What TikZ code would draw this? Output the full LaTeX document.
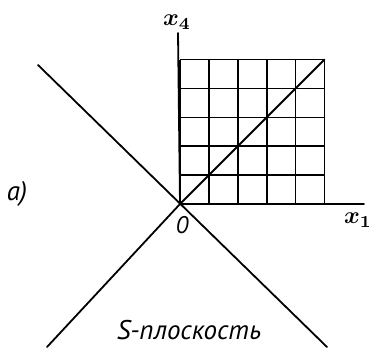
\documentclass[tikz,border=0pt]{standalone}
\usepackage{graphicx}
\usepackage{fontspec}
\newfontfamily\ptsans{PT Sans}
\newcommand{\biglbl}[1]{\scalebox{2.4}{\boldmath$#1$}}
\begin{document}
\begin{tikzpicture}[x=1pt,y=-1pt,
  ln/.style={line width=1.8pt, line cap=round},
  gridln/.style={line width=1.6pt},
  lbl/.style={inner sep=0pt, font=\ptsans\itshape\fontsize{27}{30}\selectfont},
  axlbl/.style={inner sep=0pt}]
\useasboundingbox (0,0) rectangle (371,348);
\coordinate (O) at (180,204);
\coordinate (TR) at (324.5,59.5);
\coordinate (x4end) at (178,33);
\coordinate (x1end) at (364,204);
\coordinate (UL) at (38,65);
\coordinate (LR) at (327,347);
\coordinate (LL) at (47,347);
% grid
\foreach \i in {0,...,5} {
  \draw[gridln] (180+28.9*\i,204) -- (180+28.9*\i,59.5);
  \draw[gridln] (180,204-28.9*\i) -- (324.5,204-28.9*\i);
}
% axes
\draw[ln] (O) -- (x4end);
\draw[ln] (O) -- (x1end);
\draw[ln] (O) -- (TR);
% light-cone lines
\draw[ln] (UL) -- (LR);
\draw[ln] (O) -- (LL);
% labels
\node[axlbl] (lx4) at (177,22) {\biglbl{x_4}};
\node[axlbl] (lx1) at (358,220) {\biglbl{x_1}};
\node[lbl, font=\ptsans\itshape\fontsize{24}{28}\selectfont] (l0) at (182,225) {0};
\node[lbl] (la) at (17,194) {a)};
\node[lbl] (ls) at (189,330) {S-плоскость};
\end{tikzpicture}
\end{document}
